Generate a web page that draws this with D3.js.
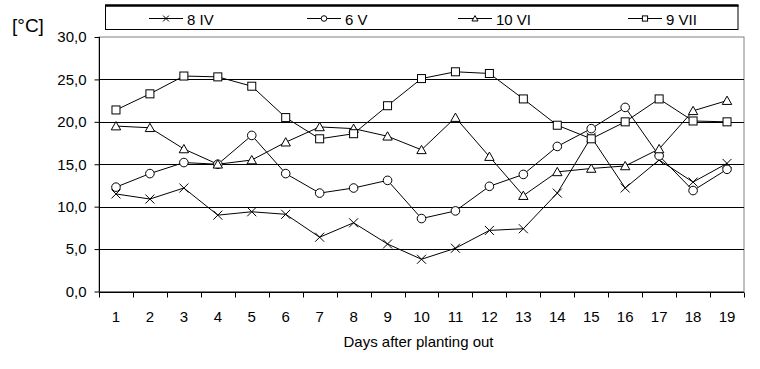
<!DOCTYPE html>
<html><head><meta charset="utf-8">
<script src="https://cdn.jsdelivr.net/npm/d3@7/dist/d3.min.js"></script>
<style>body{margin:0;background:#fff}svg{display:block}text{font-family:"Liberation Sans",Arial,sans-serif;fill:#000}</style>
</head><body><svg id="c" width="760" height="369"></svg>
<script>
const days = ["1","2","3","4","5","6","7","8","9","10","11","12","13","14","15","16","17","18","19"];
const seriesNames = ["8 IV","6 V","10 VI","9 VII"];
const s8IV  = [11.5,10.9,12.2,9.0,9.4,9.1,6.4,8.1,5.6,3.8,5.1,7.2,7.4,11.6,18.2,12.2,15.5,12.9,15.1];
const s6V   = [12.3,13.9,15.2,15.0,18.4,13.9,11.6,12.2,13.1,8.6,9.5,12.4,13.8,17.1,19.2,21.7,16.0,11.9,14.4];
const s10VI = [19.5,19.3,16.8,15.0,15.5,17.6,19.4,19.2,18.3,16.7,20.5,15.9,11.3,14.1,14.5,14.8,16.8,21.3,22.5];
const s9VII = [21.4,23.3,25.4,25.3,24.2,20.5,18.0,18.6,21.9,25.1,25.9,25.7,22.7,19.6,18.0,20.0,22.7,20.1,20.0];
const yTicks = [0,5,10,15,20,25,30];
const markers = ["cross","circle","triangle","square"];

const svg = d3.select("#c");
const L = 99, R = 744, T = 37, B = 291.5;
const x = d3.scaleBand().domain(days).range([L, R]);
const y = d3.scaleLinear().domain([0,30]).range([B, T]);
const fmt = d => d.toFixed(1).replace(".", ",");

svg.append("rect").attr("x", L).attr("y", T).attr("width", R-L).attr("height", B-T)
  .attr("fill","none").attr("stroke","#808080").attr("stroke-width",1);
svg.append("g").selectAll("line").data(yTicks.filter(v=>v>0 && v<30)).join("line")
  .attr("x1", L).attr("x2", R).attr("y1", d=>Math.round(y(d))+0.5).attr("y2", d=>Math.round(y(d))+0.5)
  .attr("stroke","#000").attr("stroke-width",1);

const ya = svg.append("g").attr("transform", `translate(${L+0.5},0)`)
  .call(d3.axisLeft(y).tickValues(yTicks).tickFormat(fmt).tickSize(5).tickPadding(8));
ya.selectAll("path.domain").attr("stroke","#000").attr("d", `M0,${T}V${B}`);
ya.selectAll(".tick line").attr("stroke","#000");
ya.selectAll("text").style("font-size","15px").attr("font-family","Liberation Sans, Arial, sans-serif");

const xa = svg.append("g").attr("transform", `translate(0,${Math.round(B)+0.5})`)
  .call(d3.axisBottom(x).tickSize(0).tickPadding(19));
xa.selectAll("path.domain").attr("stroke","#000").attr("d", `M${L},0H${R}`);
xa.selectAll("text").style("font-size","15px").attr("font-family","Liberation Sans, Arial, sans-serif");
xa.append("g").selectAll("line").data(days.concat(["end"])).join("line")
  .attr("x1", (d,i)=>Math.round(L + i*x.step())+0.5).attr("x2",(d,i)=>Math.round(L + i*x.step())+0.5)
  .attr("y1",0).attr("y2",5).attr("stroke","#000");

svg.append("text").attr("x",(L+R)/2-3).attr("y",347).attr("text-anchor","middle")
  .style("font-size","15px").text("Days after planting out");
svg.append("text").attr("x",12).attr("y",32).style("font-size","19px").text("[°C]");

function drawMarker(g, type, s){
  s = s || 1;
  if(type==="cross"){
    g.append("path").attr("d",`M${-4.5*s},${-4.5*s}L${4.5*s},${4.5*s}M${-4.5*s},${4.5*s}L${4.5*s},${-4.5*s}`).attr("stroke","#000").attr("fill","none");
  } else if(type==="circle"){
    g.append("circle").attr("r",4.3*s).attr("fill","#fff").attr("stroke","#000");
  } else if(type==="triangle"){
    g.append("path").attr("d",`M0,${-4.5*s}L${4.7*s},${3.8*s}L${-4.7*s},${3.8*s}Z`).attr("fill","#fff").attr("stroke","#000");
  } else {
    g.append("rect").attr("x",-4*s).attr("y",-4*s).attr("width",8*s).attr("height",8*s).attr("fill","#fff").attr("stroke","#000");
  }
}

const all = [s8IV, s6V, s10VI, s9VII];
const line = d3.line().x((d,i)=>x(days[i])+x.bandwidth()/2).y(d=>y(d));
all.forEach((s)=>{
  svg.append("path").datum(s).attr("d", line).attr("fill","none").attr("stroke","#000").attr("stroke-width",1);
});
all.forEach((s,k)=>{
  s.forEach((v,i)=>{
    const g = svg.append("g").attr("transform",`translate(${x(days[i])+x.bandwidth()/2},${y(v)})`);
    drawMarker(g, markers[k]);
  });
});

// legend
svg.append("rect").attr("x",105.5).attr("y",5.5).attr("width",632.5).attr("height",24)
  .attr("fill","#fff").attr("stroke","#000");
svg.append("line").attr("x1",105).attr("x2",738.5).attr("y1",5.5).attr("y2",5.5).attr("stroke","#000").attr("stroke-width",2.5);
const legX = [149, 307, 458, 628];
seriesNames.forEach((n,k)=>{
  const lx = legX[k];
  svg.append("line").attr("x1",lx).attr("x2",lx+34).attr("y1",18.5).attr("y2",18.5).attr("stroke","#000");
  const g = svg.append("g").attr("transform",`translate(${lx+17},18.5)`);
  drawMarker(g, markers[k], 0.65);
  svg.append("text").attr("x",lx+38).attr("y",25).style("font-size","15px").text(n);
});
</script></body></html>
